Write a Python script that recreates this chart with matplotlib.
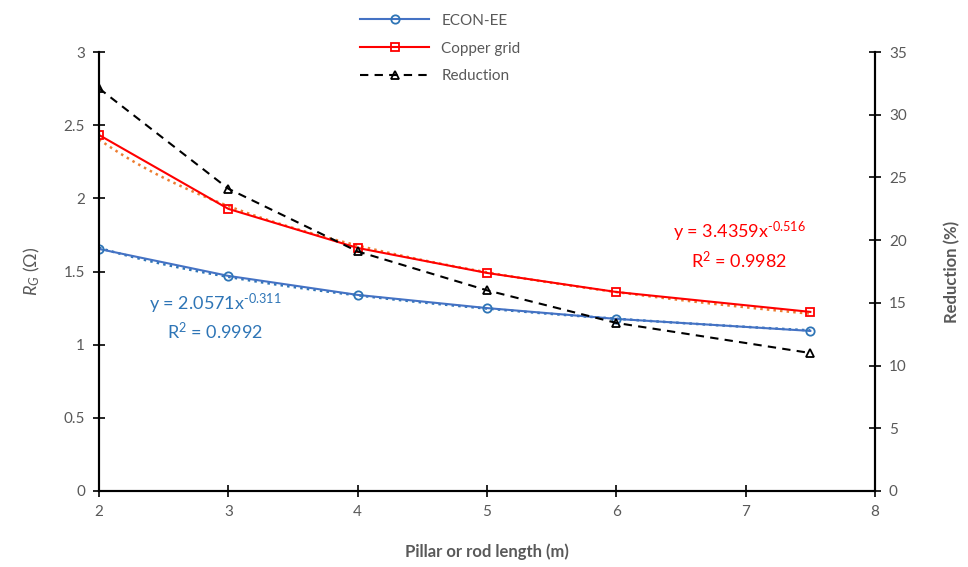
import numpy as np, matplotlib; matplotlib.use("Agg")
import matplotlib.pyplot as plt

plt.rcParams['font.family'] = ['Lato', 'DejaVu Sans']
plt.rcParams['mathtext.fontset'] = 'custom'
plt.rcParams['mathtext.rm'] = 'Lato'
plt.rcParams['mathtext.it'] = 'Lato:italic'

length = [2, 3, 4, 5, 6, 7.5]
econ_ee = [1.654, 1.47, 1.34, 1.25, 1.176, 1.094]
copper = [2.433, 1.928, 1.661, 1.49, 1.36, 1.224]
reduction = [32.1, 24.1, 19.1, 16.0, 13.4, 11.0]

blue, red, grey = "#4472C4", "#FF0000", "#595959"

fig = plt.figure(figsize=(9.68, 5.67), dpi=100)
ax = fig.add_axes([99/968, 1-491/567, (875-99)/968, (491-52)/567])
ax2 = ax.twinx()

# power trendlines fitted on the data
xs = np.linspace(2, 7.5, 100)
for ys, c in [(econ_ee, "#2E75B6"), (copper, "#ED7D31")]:
    b, a = np.polyfit(np.log(length), np.log(ys), 1)
    ax.plot(xs, np.exp(a) * xs**b, ls=":", color=c, lw=1.8, zorder=2)

l1, = ax.plot(length, econ_ee, color=blue, lw=1.5, marker="o", ms=6, mfc="none",
              mec="#2E75B6", mew=1.3, label="ECON-EE", zorder=3)
l2, = ax.plot(length, copper, color=red, lw=1.5, marker="s", ms=6, mfc="none",
              mec=red, mew=1.3, label="Copper grid", zorder=3)
l3, = ax2.plot(length, reduction, color="black", lw=1.5, ls=(0, (4, 3)), marker="^",
               ms=6, mfc="none", mec="black", mew=1.3, label="Reduction")

ax.set_xlim(2, 8); ax.set_ylim(0, 3); ax2.set_ylim(0, 35)
ax.set_xticks(range(2, 9)); ax.set_yticks(np.arange(0, 3.01, 0.5))
ax.set_yticklabels(["0", "0.5", "1", "1.5", "2", "2.5", "3"])
ax2.set_yticks(range(0, 36, 5))
for a in (ax, ax2):
    a.spines["top"].set_visible(False)
    for s in ["left", "right", "bottom"]:
        a.spines[s].set_linewidth(1.5)
for a, axis in [(ax, "both"), (ax2, "y")]:
    a.tick_params(axis=axis, direction="inout", length=8, width=1.2, labelsize=11,
                  labelcolor=grey, pad=6)

ax.set_xlabel("Pillar or rod length (m)", fontsize=12, color=grey, fontweight="bold", labelpad=18)
ax.set_ylabel(r"$R_G$ ($\Omega$)", fontsize=13, color=grey, labelpad=16)
ax2.set_ylabel("Reduction (%)", fontsize=12, color=grey, fontweight="bold", labelpad=27)

ax.text(2.9, 1.235, "y = 2.0571x$^{\\mathrm{\u2010}0.311}$", color="#2E75B6", fontsize=13, ha="center")
ax.text(2.9, 1.04, r"R$^2$ = 0.9992", color="#2E75B6", fontsize=13, ha="center")
ax.text(6.95, 1.73, "y = 3.4359x$^{\\mathrm{\u2010}0.516}$", color=red, fontsize=13, ha="center")
ax.text(6.95, 1.52, r"R$^2$ = 0.9982", color=red, fontsize=13, ha="center")

fig.legend(handles=[l1, l2, l3], loc="upper center", bbox_to_anchor=(0.455, 1.0),
           frameon=False, fontsize=11, labelcolor=grey, handlelength=4.5, labelspacing=0.9)

fig.savefig("out.png", dpi=100)
